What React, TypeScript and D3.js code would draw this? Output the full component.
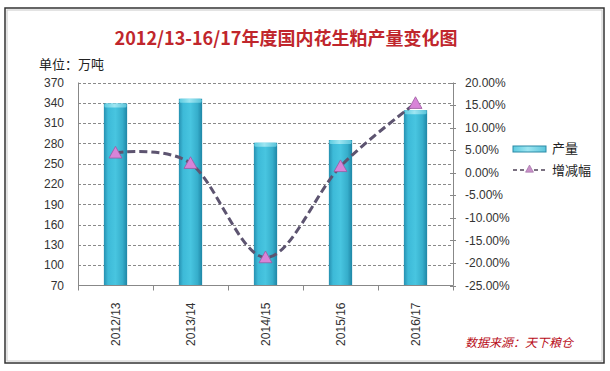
import React from 'react';
import * as d3 from 'd3';

const categories = ['2012/13', '2013/14', '2014/15', '2015/16', '2016/17'];
const production = [339, 346, 281, 285, 329];
const change = [4.4, 2.1, -18.8, 1.4, 15.4];
const leftTicks = [70, 100, 130, 160, 190, 220, 250, 280, 310, 340, 370];
const rightTicks = [-25, -20, -15, -10, -5, 0, 5, 10, 15, 20];

const W = 610;
const H = 371;
const plot = { left: 78, right: 453, top: 82.5, bottom: 285.5 };
const numFont = '"Liberation Sans", Arial, sans-serif';
const cjkFont = '"Noto Sans CJK SC", "Liberation Sans", sans-serif';

const App = () => {
  const x = d3.scaleBand().domain(categories).range([plot.left, plot.right]).padding(0);
  const yLeft = d3.scaleLinear().domain([70, 370]).range([plot.bottom, plot.top]);
  const yRight = d3.scaleLinear().domain([-25, 20]).range([plot.bottom, plot.top]);
  const barW = x.bandwidth() * 0.31;

  const line = d3
    .line<number>()
    .x((d, i) => (x(categories[i]) as number) + x.bandwidth() / 2)
    .y((d) => yRight(d))
    .curve(d3.curveCatmullRom.alpha(0));

  const tri = (cx: number, cy: number, s = 6) =>
    `M${cx},${cy - s} L${cx + s},${cy + s * 0.8} L${cx - s},${cy + s * 0.8} Z`;

  return (
    <div style={{ position: 'fixed', left: 0, top: 0 }}>
      <svg width={W} height={H} style={{ display: 'block', background: '#fff' }}>
        <defs>
          <linearGradient id="barGrad" x1="0" x2="1" y1="0" y2="0">
            <stop offset="0%" stopColor="#2690b0" />
            <stop offset="18%" stopColor="#3dbad8" />
            <stop offset="50%" stopColor="#48c5e0" />
            <stop offset="80%" stopColor="#36aecb" />
            <stop offset="100%" stopColor="#1f86a6" />
          </linearGradient>
          <linearGradient id="capGrad" x1="0" x2="1" y1="0" y2="0">
            <stop offset="0%" stopColor="#5ccbe0" />
            <stop offset="45%" stopColor="#9ee6f2" />
            <stop offset="100%" stopColor="#5ac4da" />
          </linearGradient>
        </defs>

        {/* frame */}
        <rect x={5} y={8} width={599} height={355} fill="#fff" stroke="#333" strokeWidth={1.5} />
        <rect x={7} y={10} width={595} height={351} fill="none" stroke="#c8c8c8" strokeWidth={1} />

        <text
          x={286}
          y={45}
          textAnchor="middle"
          fontFamily={cjkFont}
          fontWeight="bold"
          fontSize={18}
          fill="#c0262c"
        >
          2012/13-16/17年度国内花生粕产量变化图
        </text>
        <text x={39} y={69} fontFamily={cjkFont} fontSize={13} fill="#222">
          单位：万吨
        </text>

        {/* gridlines */}
        {leftTicks.slice(1).map((t) => (
          <line
            key={t}
            x1={plot.left}
            x2={plot.right}
            y1={Math.round(yLeft(t)) + 0.5}
            y2={Math.round(yLeft(t)) + 0.5}
            stroke="#8a8a8a"
            strokeWidth={1}
            strokeDasharray="3,2"
          />
        ))}

        {/* bars */}
        {production.map((v, i) => {
          const cx = (x(categories[i]) as number) + x.bandwidth() / 2;
          const top = yLeft(v);
          return (
            <g key={categories[i]}>
              <rect x={cx - barW / 2} y={top} width={barW} height={plot.bottom - top} fill="url(#barGrad)" />
              <rect x={cx - barW / 2 + 0.5} y={top} width={barW - 1} height={4} rx={1.5} fill="url(#capGrad)" />
            </g>
          );
        })}

        {/* axes */}
        <line x1={plot.left + 0.5} x2={plot.left + 0.5} y1={plot.top} y2={plot.bottom} stroke="#888" />
        <line x1={plot.right + 0.5} x2={plot.right + 0.5} y1={plot.top} y2={plot.bottom} stroke="#888" />
        <line x1={plot.left} x2={plot.right} y1={plot.bottom} y2={plot.bottom} stroke="#888" />
        {categories.map((c) => (
          <line
            key={c}
            x1={(x(c) as number) + 0.5}
            x2={(x(c) as number) + 0.5}
            y1={plot.bottom}
            y2={plot.bottom + 5}
            stroke="#888"
          />
        ))}
        <line x1={plot.right + 0.5} x2={plot.right + 0.5} y1={plot.bottom} y2={plot.bottom + 5} stroke="#888" />
        {rightTicks.map((t) => (
          <line
            key={t}
            x1={plot.right - 3}
            x2={plot.right + 3}
            y1={Math.round(yRight(t)) + 0.5}
            y2={Math.round(yRight(t)) + 0.5}
            stroke="#888"
          />
        ))}

        {leftTicks.map((t) => (
          <text
            key={t}
            x={64}
            y={yLeft(t)}
            dy="0.35em"
            textAnchor="end"
            fontFamily={numFont}
            fontSize={12}
            fill="#333"
          >
            {t}
          </text>
        ))}
        {rightTicks.map((t) => (
          <text key={t} x={465} y={yRight(t)} dy="0.35em" fontFamily={numFont} fontSize={12} fill="#333">
            {t.toFixed(2)}%
          </text>
        ))}
        {categories.map((c) => {
          const cx = (x(c) as number) + x.bandwidth() / 2;
          return (
            <text
              key={c}
              transform={`translate(${cx},${plot.bottom + 17}) rotate(-90)`}
              dy="0.35em"
              textAnchor="end"
              fontFamily={numFont}
              fontSize={12}
              fill="#333"
            >
              {c}
            </text>
          );
        })}

        {/* change line */}
        <path
          d={line(change) as string}
          fill="none"
          stroke="#5d5470"
          strokeWidth={3}
          strokeDasharray="8,4"
        />
        {change.map((v, i) => {
          const cx = (x(categories[i]) as number) + x.bandwidth() / 2;
          return <path key={i} d={tri(cx, yRight(v), 6.5)} fill="#d884d8" stroke="#9a5aa0" strokeWidth={0.8} />;
        })}

        {/* legend */}
        <rect x={513} y={146} width={33} height={6} fill="url(#capGrad)" stroke="#2a8aa6" strokeWidth={1} />
        <text x={552} y={148} dy="0.35em" fontFamily={cjkFont} fontSize={13} fill="#222">
          产量
        </text>
        <line x1={513} x2={546} y1={170} y2={170} stroke="#7a7080" strokeWidth={2} strokeDasharray="4,3" />
        <path d={tri(529.5, 169, 4)} fill="#c890c8" stroke="#9a6aa0" strokeWidth={0.6} />
        <text x={552} y={170} dy="0.35em" fontFamily={cjkFont} fontSize={13} fill="#222">
          增减幅
        </text>

        <text
          x={465}
          y={343}
          dy="0.35em"
          fontFamily={cjkFont}
          fontStyle="italic"
          fontSize={12}
          fill="#b80c18"
        >
          数据来源：天下粮仓
        </text>
      </svg>
    </div>
  );
};

export default App;
